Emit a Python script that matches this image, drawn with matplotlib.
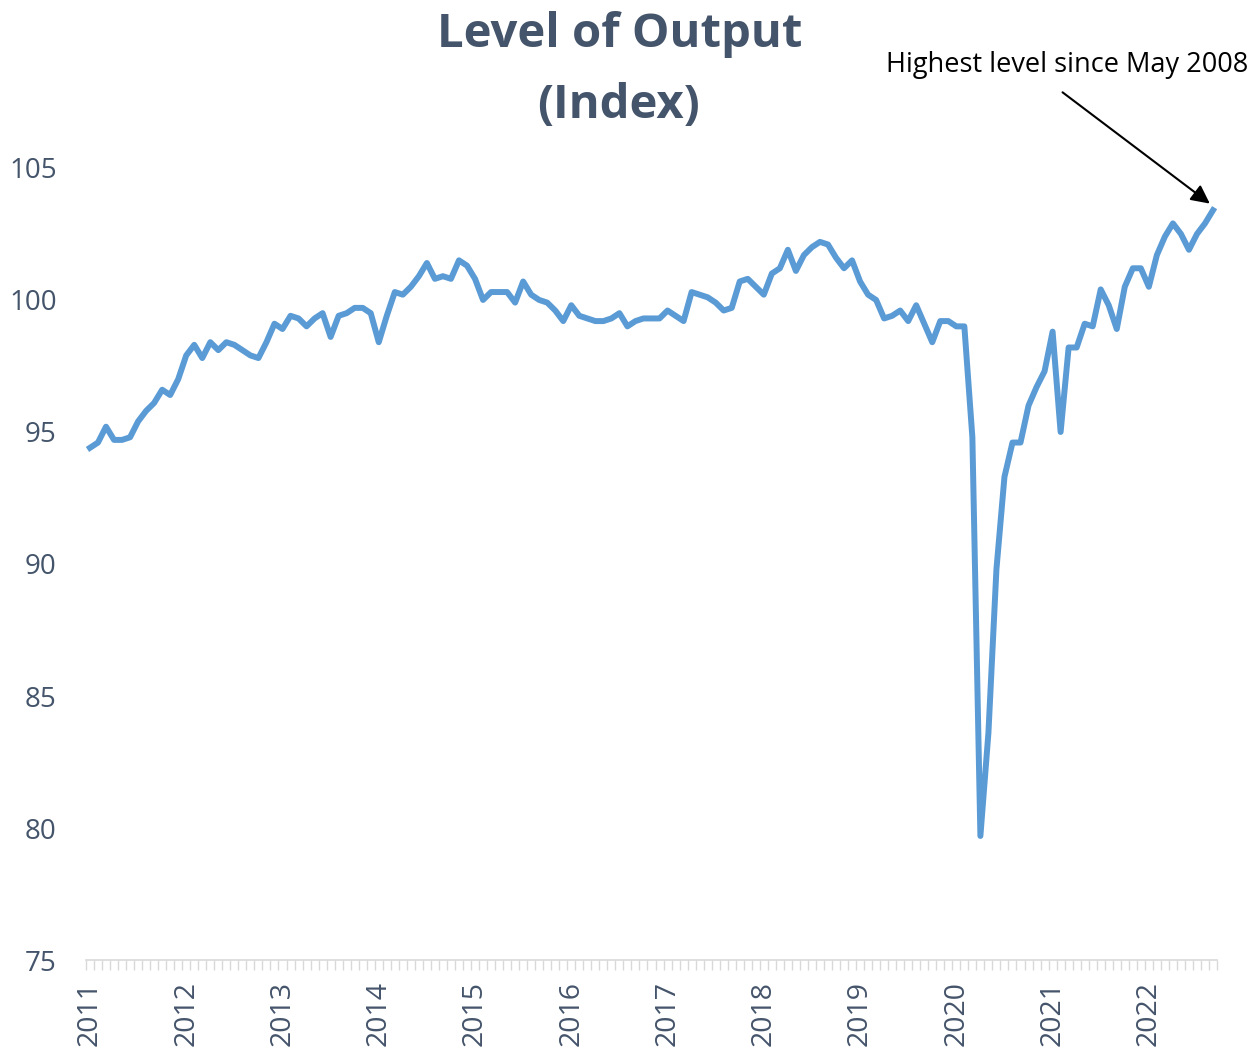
import matplotlib
matplotlib.use("Agg")
import matplotlib.pyplot as plt

# Monthly index, Jan 2011 - Sep 2022
output_index = [
    94.4, 94.6, 95.2, 94.7, 94.7, 94.8, 95.4, 95.8, 96.1, 96.6, 96.4, 97.0,
    97.9, 98.3, 97.8, 98.4, 98.1, 98.4, 98.3, 98.1, 97.9, 97.8, 98.4, 99.1,
    98.9, 99.4, 99.3, 99.0, 99.3, 99.5, 98.6, 99.4, 99.5, 99.7, 99.7, 99.5,
    98.4, 99.4, 100.3, 100.2, 100.5, 100.9, 101.4, 100.8, 100.9, 100.8, 101.5, 101.3,
    100.8, 100.0, 100.3, 100.3, 100.3, 99.9, 100.7, 100.2, 100.0, 99.9, 99.6, 99.2,
    99.8, 99.4, 99.3, 99.2, 99.2, 99.3, 99.5, 99.0, 99.2, 99.3, 99.3, 99.3,
    99.6, 99.4, 99.2, 100.3, 100.2, 100.1, 99.9, 99.6, 99.7, 100.7, 100.8, 100.5,
    100.2, 101.0, 101.2, 101.9, 101.1, 101.7, 102.0, 102.2, 102.1, 101.6, 101.2, 101.5,
    100.7, 100.2, 100.0, 99.3, 99.4, 99.6, 99.2, 99.8, 99.1, 98.4, 99.2, 99.2,
    99.0, 99.0, 94.8, 79.7, 83.6, 89.8, 93.3, 94.6, 94.6, 96.0, 96.7, 97.3,
    98.8, 95.0, 98.2, 98.2, 99.1, 99.0, 100.4, 99.8, 98.9, 100.5, 101.2, 101.2,
    100.5, 101.7, 102.4, 102.9, 102.5, 101.9, 102.5, 102.9, 103.4,
]
years = list(range(2011, 2023))
y_ticks = [75, 80, 85, 90, 95, 100, 105]

slate = "#44546A"
plt.rcParams["font.family"] = ["Open Sans", "DejaVu Sans"]

fig = plt.figure(figsize=(12.53, 10.49), dpi=100)
ax = fig.add_axes([0.0686, 0.0848, 0.9027, 0.7551])

months = list(range(len(output_index)))
ax.plot(months, output_index, color="#5B9BD5", linewidth=4.3, solid_joinstyle="round")

ax.set_xlim(-0.5, len(output_index) - 0.5)
ax.set_ylim(75, 105)

# year labels on each January, month ticks between categories
ax.set_xticks([12 * k for k in range(len(years))])
ax.set_xticklabels([str(y) for y in years], rotation=90, fontsize=20.5, color=slate)
ax.set_xticks([m - 0.5 for m in range(len(output_index) + 1)], minor=True)
ax.tick_params(axis="x", which="major", length=0, pad=15)
ax.tick_params(axis="x", which="minor", length=7, width=1, color="#D9D9D9", direction="out")

ax.set_yticks(y_ticks)
ax.set_yticklabels([str(v) for v in y_ticks], fontsize=20, color=slate)
ax.tick_params(axis="y", length=0, pad=21)

for side in ["top", "right", "left"]:
    ax.spines[side].set_visible(False)
ax.spines["bottom"].set_color("#D9D9D9")
ax.spines["bottom"].set_linewidth(1.2)

# two-line title
fig.text(0.4948, 0.9552, "Level of Output", ha="center", va="baseline",
         fontsize=34, fontweight="bold", color=slate)
fig.text(0.4935, 0.8875, "(Index)", ha="center", va="baseline",
         fontsize=34, fontweight="bold", color=slate)

fig.text(0.996, 0.9314, "Highest level since May 2008", ha="right", va="baseline",
         fontsize=19.5, color="black")
ax.annotate("", xy=(139.6, 103.65), xycoords="data",
            xytext=(0.848, 0.912), textcoords="figure fraction",
            arrowprops=dict(arrowstyle="-|>", color="black", lw=1.5,
                            mutation_scale=28, shrinkA=0, shrinkB=0))

fig.savefig("out.png", dpi=100)
